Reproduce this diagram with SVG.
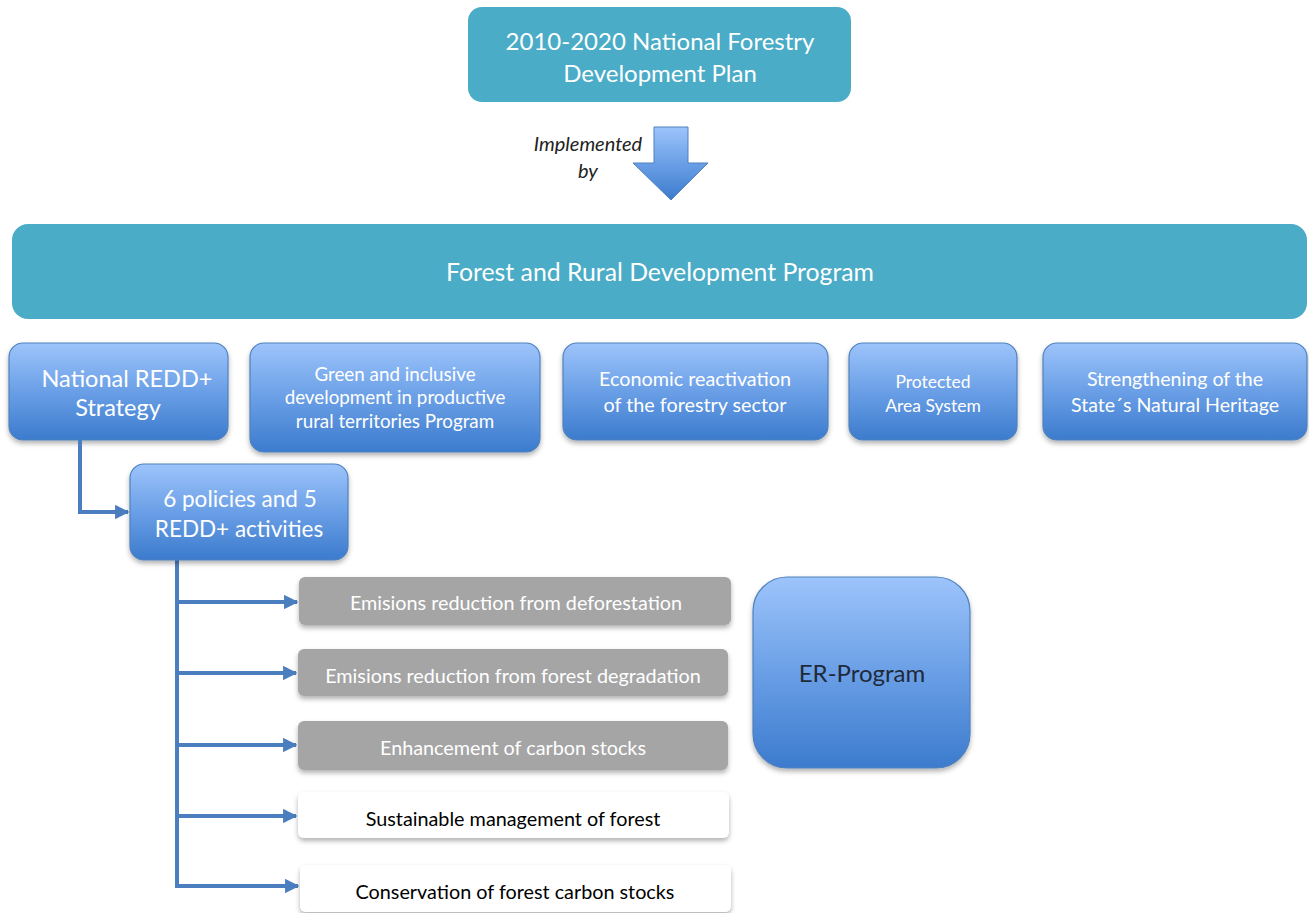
<svg xmlns="http://www.w3.org/2000/svg" width="1309" height="913" viewBox="0 0 1309 913">
<defs>
<linearGradient id="blue" x1="0" y1="0" x2="0" y2="1">
<stop offset="0" stop-color="#9dc4fb"/>
<stop offset="0.5" stop-color="#6a9fe6"/>
<stop offset="1" stop-color="#3c7bcd"/>
</linearGradient>
<filter id="sh" x="-10%" y="-10%" width="120%" height="130%">
<feDropShadow dx="0" dy="3" stdDeviation="2.5" flood-color="#000" flood-opacity="0.3"/>
</filter>
<marker id="ah" viewBox="0 0 10 10" refX="9" refY="5" markerWidth="3.6" markerHeight="3.6" orient="auto" markerUnits="strokeWidth">
<path d="M0,0 L10,5 L0,10 z" fill="#4a7ebf"/>
</marker>
<style>
.teal{fill:#4aacc6;}
.bl{fill:url(#blue);stroke:#4f81bd;stroke-width:1.2;filter:url(#sh);}
.gr{fill:#a5a5a5;filter:url(#sh);}
.wh{fill:#ffffff;filter:url(#sh);}
text{font-family:Lato,"Liberation Sans",sans-serif;text-anchor:middle;}
.w{fill:#ffffff;}
.k{fill:#000000;}
.s{font-size:19.8px;}
.con{stroke:#4a7ebf;stroke-width:4;fill:none;}
</style>
</defs>

<g id="plan">
<rect class="teal" x="468" y="7" width="383" height="95" rx="14"/>
<text class="w" x="660" y="50" font-size="24">2010-2020 National Forestry</text>
<text class="w" x="660" y="82" font-size="24">Development Plan</text>
</g>

<g id="implemented">
<path d="M654,127 L688,127 L688,163 L708,163 L671,200 L633,163 L654,163 Z" fill="url(#blue)" stroke="#4f81bd" stroke-width="1"/>
<text x="588" y="151" font-size="20" font-style="italic" fill="#222">Implemented</text>
<text x="588" y="178" font-size="20" font-style="italic" fill="#222">by</text>
</g>

<g id="forest-rural">
<rect class="teal" x="12" y="224" width="1295" height="95" rx="16"/>
<text class="w" x="660" y="281" font-size="24.8">Forest and Rural Development Program</text>
</g>

<g id="national-redd">
<rect class="bl" x="9" y="343" width="219" height="97" rx="14"/>
<text class="w" x="127" y="387" font-size="23.5">National REDD+</text>
<text class="w" x="118" y="416" font-size="23.5">Strategy</text>
</g>

<g id="green">
<rect class="bl" x="250" y="343" width="290" height="109" rx="14"/>
<text class="w" x="395" y="381" font-size="18.8">Green and inclusive</text>
<text class="w" x="395" y="404" font-size="18.8">development in productive</text>
<text class="w" x="395" y="428" font-size="18.8">rural territories Program</text>
</g>

<g id="economic">
<rect class="bl" x="563" y="343" width="265" height="97" rx="14"/>
<text class="w" x="695" y="386" font-size="19.8">Economic reactivation</text>
<text class="w" x="695" y="412" font-size="19.8">of the forestry sector</text>
</g>

<g id="protected">
<rect class="bl" x="849" y="343" width="168" height="97" rx="14"/>
<text class="w" x="933" y="388" font-size="17.5">Protected</text>
<text class="w" x="933" y="412" font-size="17.5">Area System</text>
</g>

<g id="strengthening">
<rect class="bl" x="1043" y="343" width="264" height="97" rx="14"/>
<text class="w" x="1175" y="386" font-size="19.6">Strengthening of the</text>
<text class="w" x="1175" y="412" font-size="19.6">State´s Natural Heritage</text>
</g>

<g id="connectors">
<path class="con" d="M80,440 L80,512 L128,512" marker-end="url(#ah)"/>
<path class="con" d="M177,557 L177,886"/>
<path class="con" d="M177,602 L297,602" marker-end="url(#ah)"/>
<path class="con" d="M177,673 L296,673" marker-end="url(#ah)"/>
<path class="con" d="M177,745 L296,745" marker-end="url(#ah)"/>
<path class="con" d="M177,816 L296,816" marker-end="url(#ah)"/>
<path class="con" d="M175,886 L298,886" marker-end="url(#ah)"/>
</g>

<g id="policies">
<rect class="bl" x="130" y="464" width="218" height="96" rx="14"/>
<text class="w" x="240" y="507" font-size="22.5">6 policies and 5</text>
<text class="w" x="239" y="537" font-size="22.5">REDD+ activities</text>
</g>

<g id="deforestation">
<rect class="gr" x="299" y="577" width="432" height="48" rx="6"/>
<text class="w s" x="516" y="610">Emisions reduction from deforestation</text>
</g>

<g id="degradation">
<rect class="gr" x="298" y="649" width="430" height="47" rx="6"/>
<text class="w s" x="513" y="683">Emisions reduction from forest degradation</text>
</g>

<g id="enhancement">
<rect class="gr" x="298" y="721" width="430" height="49" rx="6"/>
<text class="w s" x="513" y="755">Enhancement of carbon stocks</text>
</g>

<g id="sustainable">
<rect class="wh" x="298" y="792" width="431" height="46" rx="6"/>
<text class="k s" x="513" y="826">Sustainable management of forest</text>
</g>

<g id="conservation">
<rect class="wh" x="300" y="865" width="431" height="47" rx="6"/>
<text class="k s" x="515" y="899">Conservation of forest carbon stocks</text>
</g>

<g id="er-program">
<rect class="bl" x="753" y="577" width="217" height="191" rx="34"/>
<text x="862" y="682" font-size="24" fill="#1f2a3a">ER-Program</text>
</g>
</svg>
